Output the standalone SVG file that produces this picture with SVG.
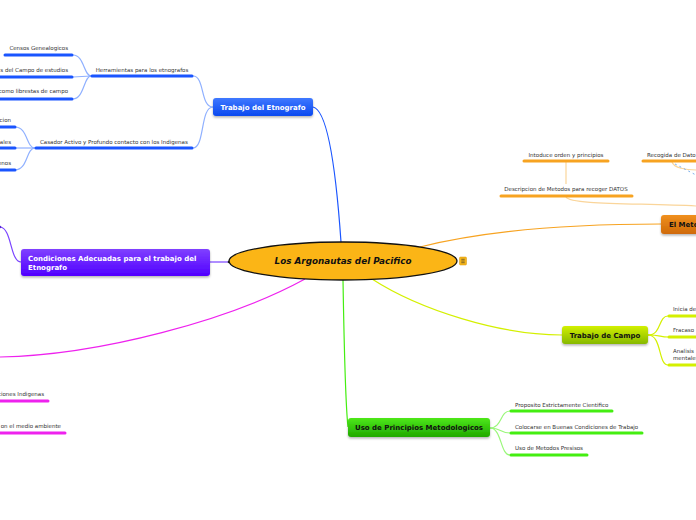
<svg xmlns="http://www.w3.org/2000/svg" width="696" height="520" viewBox="0 0 696 520">
<defs>
<linearGradient id="gBlue" x1="0" y1="0" x2="0" y2="1"><stop offset="0" stop-color="#3f78ff"/><stop offset="1" stop-color="#0a49f0"/></linearGradient>
<linearGradient id="gPurple" x1="0" y1="0" x2="0" y2="1"><stop offset="0" stop-color="#8040ff"/><stop offset="1" stop-color="#5000ff"/></linearGradient>
<linearGradient id="gOrange" x1="0" y1="0" x2="0" y2="1"><stop offset="0" stop-color="#f0901e"/><stop offset="1" stop-color="#cf6a08"/></linearGradient>
<linearGradient id="gLime" x1="0" y1="0" x2="0" y2="1"><stop offset="0" stop-color="#d2f000"/><stop offset="1" stop-color="#86b800"/></linearGradient>
<linearGradient id="gGreen" x1="0" y1="0" x2="0" y2="1"><stop offset="0" stop-color="#4ee81a"/><stop offset="1" stop-color="#1fa800"/></linearGradient>
<filter id="sh" x="-10%" y="-20%" width="120%" height="160%"><feDropShadow dx="0" dy="1.5" stdDeviation="1" flood-color="#000" flood-opacity="0.3"/></filter>
</defs>
<style>
.lbl{font-family:"DejaVu Sans",Verdana,sans-serif;font-size:5.5px;fill:#333}
.nt{font-family:"DejaVu Sans",Verdana,sans-serif;font-size:7px;font-weight:bold}
.c{fill:none;stroke-width:1.2}
.u{stroke-width:3;stroke-linecap:round}
.blue{stroke:#1a55ff}
.lblue{stroke:#8fb0ff}
.org{stroke:#f7a321}
.lorg{stroke:#fad59a}
.lime{stroke:#d4f000}
.grn{stroke:#44ee11}
.lgrn{stroke:#9af77a}
.mag{stroke:#ee22ee}
.pur{stroke:#7a44ff}
</style>
<rect width="696" height="520" fill="#fff"/>
<g id="connectors">
<path class="c blue" d="M313,107 C328,110 336,170 341,242" stroke-width="1.5"/>
<path class="c org" d="M420,247 C480,232 560,224 661,224"/>
<path class="c lime" d="M372,279 C420,310 500,335 562,335"/>
<path class="c grn" d="M343,280 C344,340 345,400 348,427"/>
<path class="c pur" d="M210,262 L229,262"/>
<circle cx="229" cy="262" r="1.3" fill="#222"/>
<path class="c mag" d="M305,279 C230,320 100,355 0,357"/>
<path class="c lblue" d="M213,107 C200,107 205,76 193,76"/>
<path class="c lblue" d="M213,107 C200,107 205,148 193,148"/>
<path class="c lblue" d="M91,76 C84,76 84,55 73,55"/>
<path class="c lblue" d="M91,76 L73,77"/>
<path class="c lblue" d="M91,76 C84,76 84,99 73,99"/>
<path class="c lblue" d="M35,148 C26,148 28,127 15,127"/>
<path class="c lblue" d="M35,148 L15,148"/>
<path class="c lblue" d="M35,148 C26,148 28,170 15,170"/>
<path class="c pur" d="M21,262 C10,262 12,228 0,227"/>
<circle cx="0" cy="227" r="1.3" fill="#5a2ad0"/>
<path class="c lorg" d="M566,161 L566,184"/>
<path class="c lorg" d="M566,197 C570,205 640,203 696,206"/>
<path class="c lorg" d="M672,162 C674,168 686,170 696,170"/>
<path d="M675,164 L696,175" stroke="#5a9ae6" stroke-width="0.8" stroke-dasharray="2,3" fill="none"/>
<path class="c lime" d="M648,335 C662,335 658,316 668,316"/>
<path class="c lime" d="M648,335 C660,335 660,337 668,337"/>
<path class="c lime" d="M648,335 C662,335 658,365 668,365"/>
<path class="c lgrn" d="M490,428 C502,428 500,411 510,411"/>
<path class="c lgrn" d="M490,428 C502,428 500,433 510,433"/>
<path class="c lgrn" d="M490,428 C502,428 500,455 510,455"/>
</g>
<g id="center">
<ellipse cx="343" cy="261" rx="114" ry="19" fill="#fbb516" stroke="#111" stroke-width="1.3"/>
<text x="343" y="264" text-anchor="middle" font-family="'DejaVu Sans',Verdana,sans-serif" font-size="8.8" font-weight="bold" font-style="italic" fill="#111">Los Argonautas del Pacifico</text>
<rect x="459.5" y="257" width="7" height="8" rx="1" fill="#f5b51a" stroke="#d9960a" stroke-width="0.5"/>
<path d="M461.3,259.3h3.4M461.3,261h3.4M461.3,262.7h3.4" stroke="#333" stroke-width="0.6"/>
</g>
<g id="trabajo-etnografo">
<rect x="213" y="98" width="100" height="18" rx="3" fill="url(#gBlue)" filter="url(#sh)"/>
<text class="nt" x="263" y="110" text-anchor="middle" fill="#fff">Trabajo del Etnografo</text>
</g>
<g id="herramientas">
<line class="u blue" x1="92" y1="76" x2="192" y2="76"/>
<text class="lbl" x="142" y="72" text-anchor="middle">Herramientas para los etnografos</text>
</g>
<g id="censos">
<line class="u blue" x1="5" y1="55" x2="72" y2="55"/>
<text class="lbl" x="68" y="50" text-anchor="end">Censos Genealogicos</text>
</g>
<g id="campo-estudios">
<line class="u blue" x1="-2" y1="77" x2="72" y2="77"/>
<text class="lbl" x="68" y="72" text-anchor="end">s del Campo de estudios</text>
</g>
<g id="libretas">
<line class="u blue" x1="-2" y1="99" x2="72" y2="99"/>
<text class="lbl" x="68" y="93" text-anchor="end">como librestas de campo</text>
</g>
<g id="casador">
<line class="u blue" x1="36" y1="148" x2="192" y2="148"/>
<text class="lbl" x="40" y="144">Casador Activo y Profundo contacto con los Indigenas</text>
</g>
<g id="casador-1">
<line class="u blue" x1="-2" y1="127" x2="15" y2="127"/>
<text class="lbl" x="11" y="122" text-anchor="end">cion</text>
</g>
<g id="casador-2">
<line class="u blue" x1="-2" y1="148" x2="15" y2="148"/>
<text class="lbl" x="11" y="144" text-anchor="end">ales</text>
</g>
<g id="casador-3">
<line class="u blue" x1="-2" y1="170" x2="15" y2="170"/>
<text class="lbl" x="11" y="165" text-anchor="end">enos</text>
</g>
<g id="condiciones">
<rect x="21" y="249" width="189" height="27" rx="3" fill="url(#gPurple)" filter="url(#sh)"/>
<text class="nt" x="28" y="261" fill="#fff">Condiciones Adecuadas para el trabajo del</text>
<text class="nt" x="28" y="270" fill="#fff">Etnografo</text>
</g>
<g id="metodo">
<rect x="661" y="215" width="45" height="19" rx="3" fill="url(#gOrange)" filter="url(#sh)"/>
<text class="nt" x="669" y="227" fill="#111">El Metodo</text>
</g>
<g id="introduce">
<line class="u org" x1="524" y1="161" x2="608" y2="161"/>
<text class="lbl" x="566" y="157" text-anchor="middle">Intoduce orden y principios</text>
</g>
<g id="recogida">
<line class="u org" x1="643" y1="161" x2="700" y2="161"/>
<text class="lbl" x="647" y="157">Recogida de Dato</text>
</g>
<g id="descripcion">
<line class="u org" x1="501" y1="196" x2="632" y2="196"/>
<text class="lbl" x="566" y="191" text-anchor="middle">Descripcion de Metodos para recoger DATOS</text>
</g>
<g id="trabajo-campo">
<rect x="562" y="326" width="86" height="18" rx="3" fill="url(#gLime)" filter="url(#sh)"/>
<text class="nt" x="605" y="338" text-anchor="middle" fill="#111">Trabajo de Campo</text>
</g>
<g id="inicia">
<line class="u lime" x1="669" y1="316" x2="700" y2="316"/>
<text class="lbl" x="673" y="311">Inicia de</text>
</g>
<g id="fracaso">
<line class="u lime" x1="669" y1="337" x2="700" y2="337"/>
<text class="lbl" x="673" y="332">Fracaso</text>
</g>
<g id="analisis">
<line class="u lime" x1="669" y1="365" x2="700" y2="365"/>
<text class="lbl" x="673" y="353">Analisis</text>
<text class="lbl" x="673" y="360">mentales</text>
</g>
<g id="uso-principios">
<rect x="348" y="418" width="142" height="19" rx="3" fill="url(#gGreen)" filter="url(#sh)"/>
<text class="nt" x="419" y="430" text-anchor="middle" fill="#111">Uso de Principios Metodologicos</text>
</g>
<g id="proposito">
<line class="u grn" x1="511" y1="411" x2="612" y2="411"/>
<text class="lbl" x="515" y="407">Proposito Estrictamente Cientifico</text>
</g>
<g id="colocarse">
<line class="u grn" x1="511" y1="433" x2="642" y2="433"/>
<text class="lbl" x="515" y="429">Colocarse en Buenas Condiciones de Trabajo</text>
</g>
<g id="metodos-presisos">
<line class="u grn" x1="511" y1="455" x2="587" y2="455"/>
<text class="lbl" x="515" y="450">Uso de Metodos Presisos</text>
</g>
<g id="indigenas">
<line class="u mag" x1="-2" y1="401" x2="48" y2="401"/>
<text class="lbl" x="44" y="396" text-anchor="end">ciones Indigenas</text>
</g>
<g id="medio-ambiente">
<line class="u mag" x1="-2" y1="433" x2="65" y2="433"/>
<text class="lbl" x="61" y="428" text-anchor="end">on el medio ambiente</text>
</g>
</svg>
